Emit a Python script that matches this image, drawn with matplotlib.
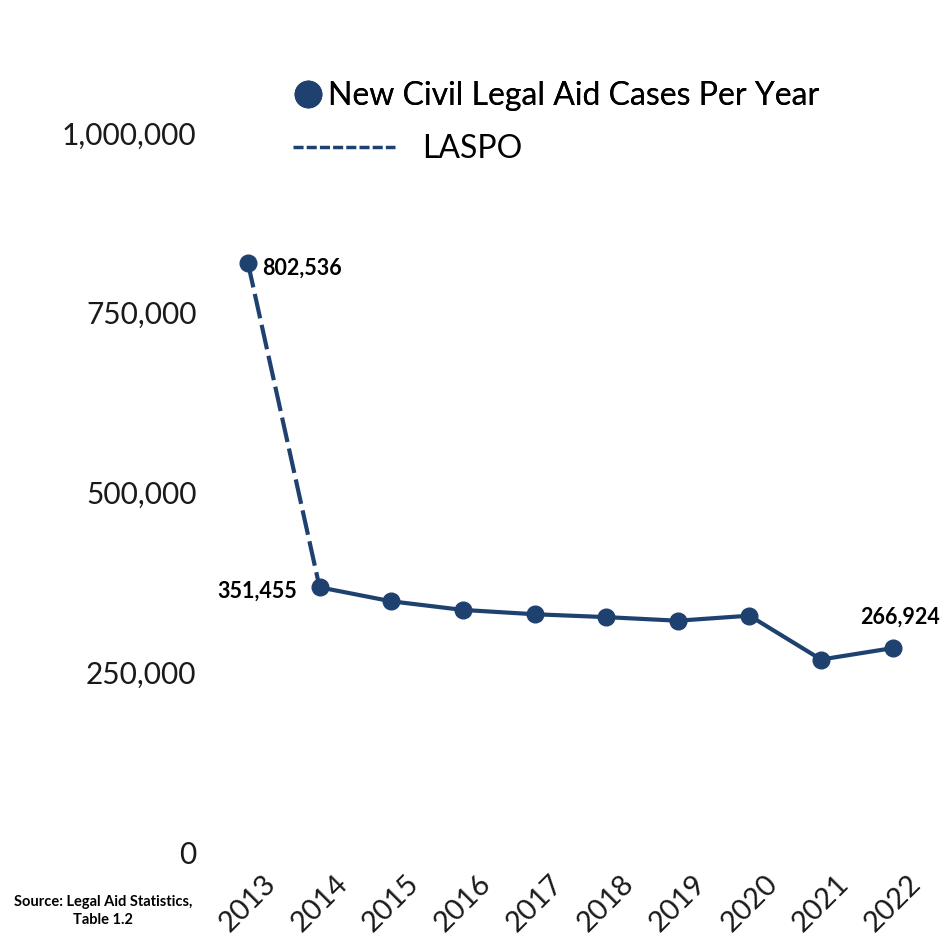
import numpy as np
import matplotlib.pyplot as plt
import matplotlib.transforms as mtransforms
from matplotlib.lines import Line2D

years = ["2013", "2014", "2015", "2016", "2017", "2018", "2019", "2020", "2021", "2022"]
cases = [802536, 351455, 332000, 320000, 314000, 310000, 305000, 312000, 251000, 266924]
labelled = {0: "802,536", 1: "351,455", 9: "266,924"}
yticks = [0, 250000, 500000, 750000, 1000000]

navy = "#1f4170"
font = "Lato"

fig = plt.figure(figsize=(9.51, 9.52), dpi=100)
ax = fig.add_axes([220 / 951, 1 - 840 / 952, 710 / 951, 776.5 / 952])

x = np.arange(len(years))
# LASPO drop, dashed
ax.plot(x[:2], cases[:2], color=navy, lw=3, ls=(0, (6, 1.6)), zorder=2)
ax.plot(x[1:], cases[1:], color=navy, lw=3, zorder=2)
ax.plot(x, cases, 'o', color=navy, ms=12, zorder=3)

ax.set_xlim(-0.39, 9.52)
ax.set_ylim(0, 1.08e6)

for s in ax.spines.values():
	s.set_visible(False)
ax.tick_params(length=0)

ax.set_yticks(yticks)
ax.set_yticklabels([f"{v:,}" for v in yticks], fontsize=21.5, fontfamily=font,
	color="#1a1a1a")
ax.tick_params(axis="y", pad=17)
off = mtransforms.ScaledTranslation(0, -12 / 100, fig.dpi_scale_trans)
for lab in ax.get_yticklabels():
	lab.set_transform(lab.get_transform() + off)

ax.set_xticks(x)
ax.set_xticklabels(years, rotation=45, ha="center", fontsize=21,
	fontfamily=font, color="#1a1a1a")
ax.tick_params(axis="x", pad=22)

# value labels
ax.annotate(labelled[0], (0, cases[0]), xytext=(10, -4), textcoords="offset points",
	ha="left", va="center", fontsize=15.5, fontweight="bold", fontfamily=font)
ax.annotate(labelled[1], (1, cases[1]), xytext=(-16, -3), textcoords="offset points",
	ha="right", va="center", fontsize=15.5, fontweight="bold", fontfamily=font)
ax.annotate(labelled[9], (9, cases[9]), xytext=(5, 22), textcoords="offset points",
	ha="center", va="center", fontsize=15.5, fontweight="bold", fontfamily=font)

# legend
h1 = Line2D([], [], marker="o", ls="none", color=navy, ms=19)
h2 = Line2D([], [], color=navy, lw=2.5, ls=(0, (2.9, 0.9)))
leg1 = fig.legend([h1], ["New Civil Legal Aid Cases Per Year"], loc="center left",
	bbox_to_anchor=(293 / 951, 1 - 96 / 952), frameon=False, handlelength=0.95,
	handletextpad=0.15, borderpad=0, borderaxespad=0,
	prop={"family": font, "size": 23})
leg2 = fig.legend([h2], ["LASPO"], loc="center left",
	bbox_to_anchor=(293 / 951, 1 - 149 / 952), frameon=False, handlelength=3.2,
	handletextpad=0.85, borderpad=0, borderaxespad=0,
	prop={"family": font, "size": 23})
fig.add_artist(leg1)

fig.text(103 / 951, 1 - 911 / 952, "Source: Legal Aid Statistics,\nTable 1.2",
	ha="center", va="center", fontsize=10.5, fontweight="bold", fontfamily=font,
	linespacing=1.45)

fig.savefig("out.png", dpi=100, facecolor="white")
